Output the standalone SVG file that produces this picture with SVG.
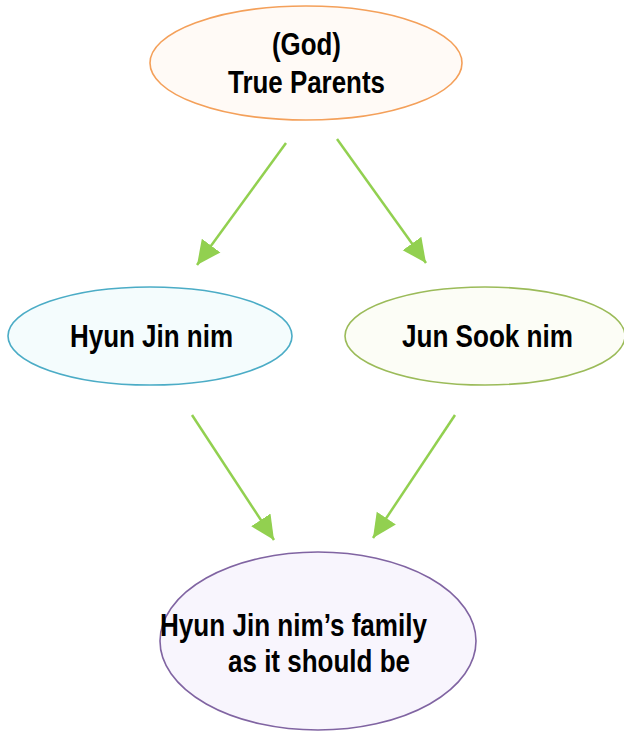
<svg xmlns="http://www.w3.org/2000/svg" width="624" height="731" viewBox="0 0 624 731">
<style>
.t{font-family:"Liberation Sans",Arial,sans-serif;font-weight:bold;font-size:31px;fill:#000}
.e{stroke-width:1.6}
.c{stroke:#92d050;stroke-width:2.5;fill:none}
</style>
<defs>
<marker id="ah" markerUnits="userSpaceOnUse" markerWidth="26" markerHeight="26" viewBox="0 0 26 26" refX="24" refY="13" orient="auto">
<path d="M0,1.5 L24,13 L0,24.5 Z" fill="#92d050"/>
</marker>
</defs>
<rect width="624" height="731" fill="#fff"/>
<g id="connectors">
<line class="c" x1="286" y1="143" x2="197" y2="265" marker-end="url(#ah)"/>
<line class="c" x1="337" y1="139" x2="426" y2="263" marker-end="url(#ah)"/>
<line class="c" x1="192" y1="415" x2="274" y2="540" marker-end="url(#ah)"/>
<line class="c" x1="455" y1="415" x2="373" y2="538" marker-end="url(#ah)"/>
</g>
<g id="true-parents">
<ellipse class="e" cx="306" cy="63" rx="156" ry="57" fill="#fffaf6" stroke="#f4a05a"/>
<text class="t" x="272" y="55" textLength="69" lengthAdjust="spacingAndGlyphs">(God)</text>
<text class="t" x="228" y="93" textLength="157" lengthAdjust="spacingAndGlyphs">True Parents</text>
</g>
<g id="hyun-jin">
<ellipse class="e" cx="150" cy="336" rx="142" ry="49" fill="#f4fcfd" stroke="#4bacc6"/>
<text class="t" x="70" y="347" textLength="163" lengthAdjust="spacingAndGlyphs">Hyun Jin nim</text>
</g>
<g id="jun-sook">
<ellipse class="e" cx="485" cy="336" rx="140" ry="49" fill="#fcfdf6" stroke="#9bbb59"/>
<text class="t" x="402" y="347" textLength="171" lengthAdjust="spacingAndGlyphs">Jun Sook nim</text>
</g>
<g id="family">
<ellipse class="e" cx="318" cy="641" rx="158" ry="89" fill="#f8f5fd" stroke="#8064a2"/>
<text class="t" x="160" y="636" textLength="267" lengthAdjust="spacingAndGlyphs">Hyun Jin nim’s family</text>
<text class="t" x="228" y="672" textLength="182" lengthAdjust="spacingAndGlyphs">as it should be</text>
</g>
</svg>
